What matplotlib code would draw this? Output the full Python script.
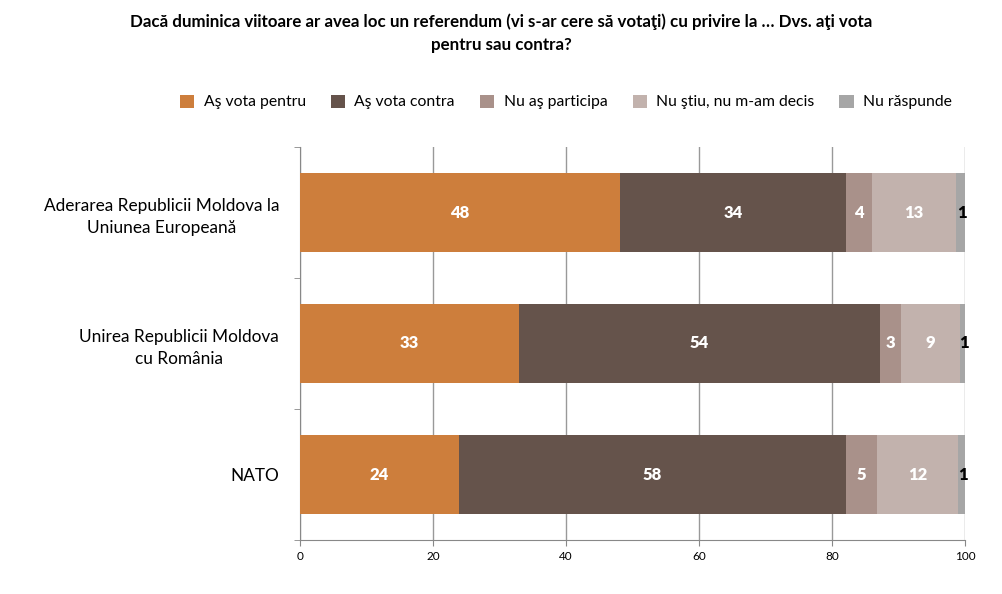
import matplotlib
matplotlib.use("Agg")
import matplotlib.pyplot as plt
import numpy as np

categories = ["Aderarea Republicii Moldova la\nUniunea Europeană",
              "Unirea Republicii Moldova\ncu România",
              "NATO"]
series_names = ["Aş vota pentru", "Aş vota contra", "Nu aş participa",
                "Nu ştiu, nu m-am decis", "Nu răspunde"]
pentru = [48.1, 32.9, 23.9]
contra = [34.0, 54.3, 58.2]
nu_particip = [3.9, 3.2, 4.7]
nu_stiu = [12.6, 8.8, 12.1]
nu_raspunde = [1.4, 0.8, 1.1]
labels = [[48, 34, 4, 13, 1], [33, 54, 3, 9, 1], [24, 58, 5, 12, 1]]
colors = ["#CD7E3C", "#65534B", "#A9918A", "#C2B2AD", "#A6A6A6"]
label_colors = ["white", "white", "white", "white", "black"]

plt.rcParams['font.family'] = ['Lato', 'DejaVu Sans']

fig = plt.figure(figsize=(10.02, 5.94), dpi=100)
ax = fig.add_axes([300/1002, 1-540/594, 665/1002, 393/594])

series = [pentru, contra, nu_particip, nu_stiu, nu_raspunde]
y = np.arange(len(categories))
left = np.zeros(len(categories))
for i, (vals, name, c) in enumerate(zip(series, series_names, colors)):
    vals = np.array(vals)
    ax.barh(y, vals, left=left, height=0.6, color=c, label=name, zorder=3)
    for j in range(len(categories)):
        ax.text(left[j] + vals[j]/2 + (0.3 if i == 4 else 0), y[j], str(labels[j][i]),
                ha='center', va='center', color=label_colors[i],
                fontsize=12, fontweight='heavy', zorder=4)
    left += vals

ax.set_xlim(0, 100)
ax.set_ylim(2.5, -0.5)
ax.set_xticks([0, 20, 40, 60, 80, 100])
ax.tick_params(axis='x', labelsize=8.5, length=4, color='#888888', pad=4)
ax.set_yticks(y)
ax.set_yticklabels(categories, fontsize=12.4, multialignment='center', linespacing=1.5)
ax.tick_params(axis='y', length=0, pad=15)
ax.set_yticks([0.5, 1.5, 2.5, -0.5], minor=True)
ax.tick_params(axis='y', which='minor', length=4, color='#888888')
ax.grid(axis='x', color='#999999', linewidth=1, zorder=0)
for s in ['top', 'right']:
    ax.spines[s].set_visible(False)
for s in ['left', 'bottom']:
    ax.spines[s].set_color('#888888')

fig.text(0.5, 1-13/594, "Dacă duminica viitoare ar avea loc un referendum (vi s-ar cere să votaţi) cu privire la … Dvs. aţi vota\npentru sau contra?",
         ha='center', va='top', fontsize=12.2, fontweight='bold', linespacing=1.55)

handles, lbls = ax.get_legend_handles_labels()
fig.legend(handles, lbls, loc='center', bbox_to_anchor=(566/1002, 1-102/594), ncol=5,
           frameon=False, fontsize=11.3, handlelength=0.9, handleheight=0.9,
           columnspacing=1.6, handletextpad=0.6)

fig.savefig("out.png", dpi=100)
